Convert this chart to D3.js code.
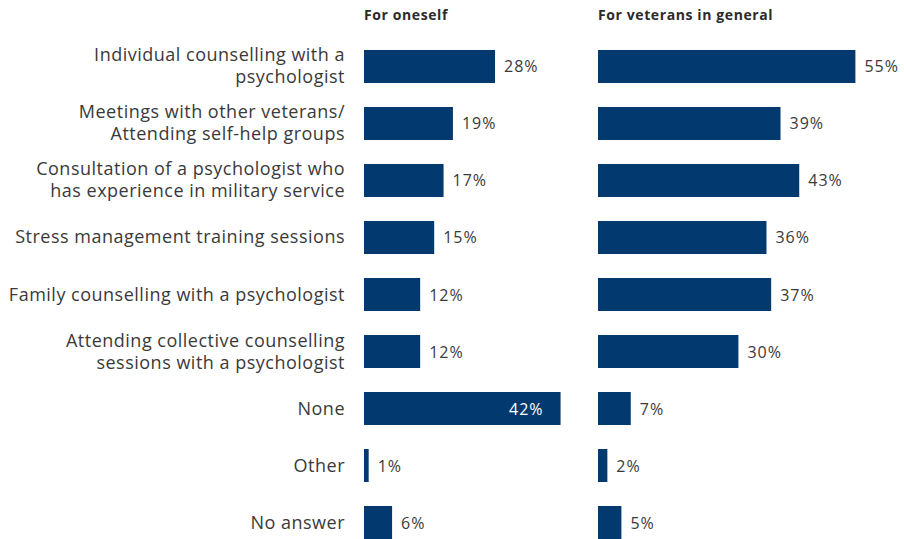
<!DOCTYPE html>
<html>
<head>
<meta charset="utf-8">
<script src="https://cdn.jsdelivr.net/npm/d3@7"></script>
<style>
  html, body { margin: 0; padding: 0; background: #ffffff; }
  svg { display: block; }
</style>
</head>
<body>
<svg id="chart" width="904" height="539"></svg>
<script>
// Category labels, already broken into display lines
const categories = [
  ["Individual counselling with a", "psychologist"],
  ["Meetings with other veterans/", "Attending self-help groups"],
  ["Consultation of a psychologist who", "has experience in military service"],
  ["Stress management training sessions"],
  ["Family counselling with a psychologist"],
  ["Attending collective counselling", "sessions with a psychologist"],
  ["None"],
  ["Other"],
  ["No answer"]
];

// Share of respondents (%)
const forOneself = [28, 19, 17, 15, 12, 12, 42, 1, 6];
const forVeterans = [55, 39, 43, 36, 37, 30, 7, 2, 5];

const panelTitles = ["For oneself", "For veterans in general"];

const FONT = "'Open Sans', Lato, sans-serif";
const BAR = "#023a70";
const TEXT = "#3a3a3a";

const svg = d3.select("#chart");
const keys = categories.map((d, i) => i);

const y = d3.scaleBand()
  .domain(keys)
  .range([26, 563])
  .padding(0.421);

const x = d3.scaleLinear().domain([0, 100]).range([0, 468]);

// Category labels, right-aligned against the first panel
const labelRight = 345;
const lab = svg.append("g")
  .attr("font-family", FONT)
  .attr("font-size", 18)
  .attr("letter-spacing", 0.5)
  .attr("fill", TEXT)
  .attr("text-anchor", "end");

categories.forEach((lines, i) => {
  const c = y(i) + y.bandwidth() / 2;
  const t = lab.append("text").attr("x", labelRight);
  if (lines.length === 1) {
    t.append("tspan").attr("x", labelRight).attr("y", c + 6).text(lines[0]);
  } else {
    lines.forEach((ln, j) => {
      t.append("tspan").attr("x", labelRight).attr("y", c - 5 + j * 22).text(ln);
    });
  }
});

const panelX = [364, 598];
const panels = [
  { title: panelTitles[0], values: forOneself, x0: panelX[0], limit: panelX[1] },
  { title: panelTitles[1], values: forVeterans, x0: panelX[1], limit: 904 }
];

panels.forEach(p => {
  const g = svg.append("g").attr("transform", `translate(${p.x0},0)`);

  g.append("text")
    .attr("x", 0)
    .attr("y", 20)
    .attr("font-family", FONT)
    .attr("font-size", 14)
    .attr("letter-spacing", 0.6)
    .attr("font-weight", 700)
    .attr("fill", "#2b2b2b")
    .text(p.title);

  g.selectAll("rect")
    .data(p.values)
    .join("rect")
    .attr("x", 0)
    .attr("y", (d, i) => y(i))
    .attr("width", d => x(d))
    .attr("height", y.bandwidth())
    .attr("fill", BAR);

  // Value labels sit after the bar, or inside it when they would run into the next panel
  g.selectAll("text.val")
    .data(p.values)
    .join("text")
    .attr("class", "val")
    .attr("font-family", FONT)
    .attr("font-size", 16)
    .attr("letter-spacing", 1)
    .attr("y", (d, i) => y(i) + y.bandwidth() / 2 + 6)
    .each(function (d) {
      const inside = p.x0 + x(d) + 48 > p.limit;
      d3.select(this)
        .attr("x", inside ? x(d) - 17 : x(d) + 9)
        .attr("text-anchor", inside ? "end" : "start")
        .attr("fill", inside ? "#ffffff" : TEXT);
    })
    .text(d => d + "%");
});
</script>
</body>
</html>
